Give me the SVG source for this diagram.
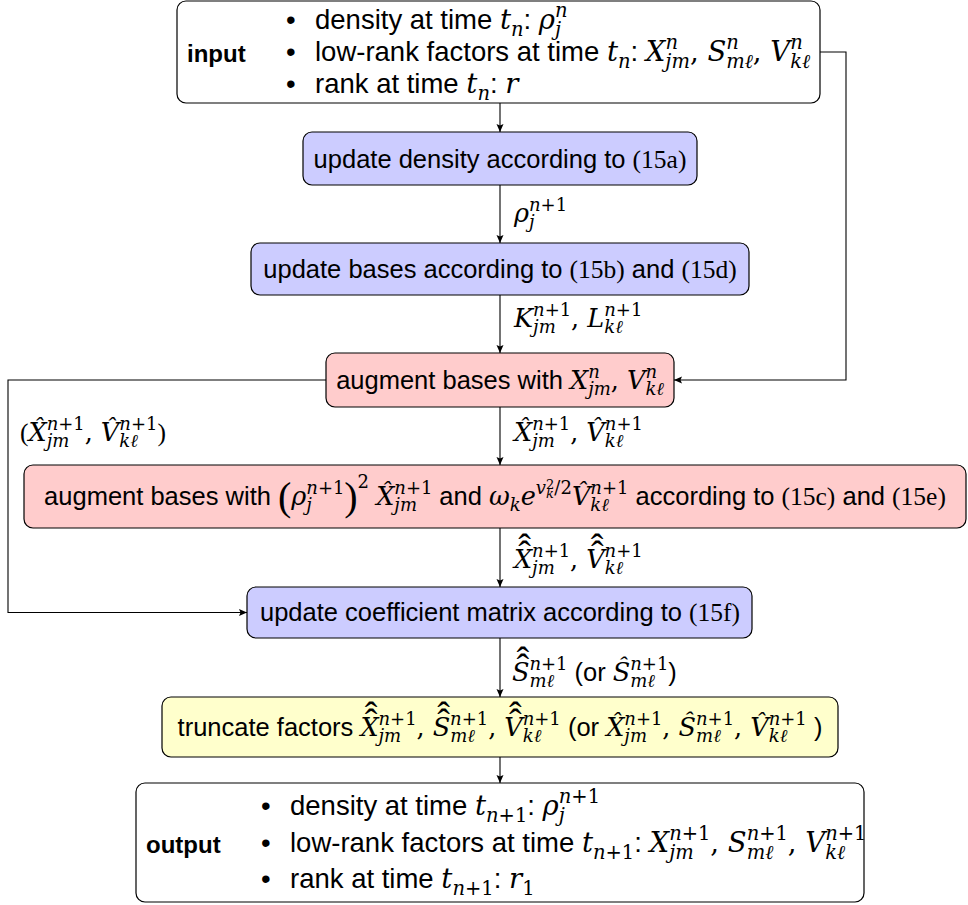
<svg xmlns="http://www.w3.org/2000/svg" width="968" height="905" viewBox="0 0 968 905">
<defs>
<marker id="ah" markerWidth="10" markerHeight="8" refX="8" refY="4" orient="auto" markerUnits="userSpaceOnUse">
<path d="M0,0.5 L8,4 L0,7.5 L1.5,4 z" fill="#000"/>
</marker>
<style>
.t{font-family:"Liberation Sans",Arial,sans-serif;font-size:25.5px;fill:#000}
.L{font-size:27.5px}
.b{font-weight:bold;font-size:24px}
.m{font-family:"DejaVu Serif",serif;font-style:italic}
.r{font-family:"Liberation Serif","Times New Roman",serif;font-style:normal}
.u{font-family:"DejaVu Serif",serif;font-style:normal}
.s{font-size:18px}
.s2{font-size:19.5px}
.ss{font-size:13px}
.h{font-family:"Liberation Serif","Times New Roman",serif;font-style:normal;font-size:38px}
.bp{font-family:"Liberation Serif","Times New Roman",serif;font-style:normal;font-size:40px}
.box{stroke:#000;stroke-width:1.2}
.w{fill:#fff}
.blue{fill:#ccccff}
.pink{fill:#ffcccc}
.yel{fill:#ffffcc}
.c{fill:none;stroke:#000;stroke-width:1.1;marker-end:url(#ah)}
</style>
</defs>
<rect width="968" height="905" fill="#fff"/>

<g id="connectors">
<line class="c" x1="500" y1="103" x2="500" y2="132"/>
<line class="c" x1="500" y1="185" x2="500" y2="243"/>
<line class="c" x1="500" y1="295" x2="500" y2="353"/>
<line class="c" x1="500" y1="407" x2="500" y2="465"/>
<line class="c" x1="500" y1="528" x2="500" y2="587"/>
<line class="c" x1="500" y1="638" x2="500" y2="697"/>
<line class="c" x1="500" y1="757" x2="500" y2="783"/>
<polyline class="c" points="820,52 846,52 846,380 674,380"/>
<polyline class="c" points="326,380 8,380 8,612.5 247,612.5"/>
<text class="t" x="514" y="222"><tspan class="m">ρ</tspan><tspan class="m s" dy="-11">n</tspan><tspan class="u s">+1</tspan><tspan class="m s" dx="-38.1" dy="17">j</tspan></text>
<text class="t" x="514" y="327"><tspan class="m">K</tspan><tspan class="m s" dy="-11">n</tspan><tspan class="u s">+1</tspan><tspan class="m s" dx="-38.1" dy="17">jm</tspan><tspan class="u" dx="15.3" dy="-6">, </tspan><tspan class="m">L</tspan><tspan class="m s" dy="-11">n</tspan><tspan class="u s">+1</tspan><tspan class="m s" dx="-38.1" dy="17">kℓ</tspan></text>
<text class="t" x="20" y="441"><tspan class="r">(</tspan><tspan class="m">X&#x302;</tspan><tspan class="m s" dy="-11">n</tspan><tspan class="u s">+1</tspan><tspan class="m s" dx="-38.1" dy="17">jm</tspan><tspan class="u" dx="15.3" dy="-6">, </tspan><tspan class="m">V&#x302;</tspan><tspan class="m s" dy="-11">n</tspan><tspan class="u s">+1</tspan><tspan class="m s" dx="-38.1" dy="17">kℓ</tspan><tspan class="r" dx="19.7" dy="-6">)</tspan></text>
<text class="t" x="514" y="441"><tspan class="m">X&#x302;</tspan><tspan class="m s" dy="-11">n</tspan><tspan class="u s">+1</tspan><tspan class="m s" dx="-38.1" dy="17">jm</tspan><tspan class="u" dx="15.3" dy="-6">, </tspan><tspan class="m">V&#x302;</tspan><tspan class="m s" dy="-11">n</tspan><tspan class="u s">+1</tspan><tspan class="m s" dx="-38.1" dy="17">kℓ</tspan></text>
<text class="t" x="514" y="568"><tspan class="m">X</tspan><tspan class="h" dx="-13.8" dy="-1">ˆ</tspan><tspan class="h" dx="-12.7" dy="-7">ˆ</tspan><tspan class="m s" dx="1.1" dy="-3">n</tspan><tspan class="u s">+1</tspan><tspan class="m s" dx="-38.1" dy="17">jm</tspan><tspan class="u" dx="15.3" dy="-6">, </tspan><tspan class="m">V</tspan><tspan class="h" dx="-13.8" dy="-1">ˆ</tspan><tspan class="h" dx="-12.7" dy="-7">ˆ</tspan><tspan class="m s" dx="1.1" dy="-3">n</tspan><tspan class="u s">+1</tspan><tspan class="m s" dx="-38.1" dy="17">kℓ</tspan></text>
<text class="t" x="512" y="681"><tspan class="m">S</tspan><tspan class="h" dx="-13" dy="-1">ˆ</tspan><tspan class="h" dx="-12.7" dy="-7">ˆ</tspan><tspan class="m s" dx="0.3" dy="-3">n</tspan><tspan class="u s">+1</tspan><tspan class="m s" dx="-38.1" dy="17">mℓ</tspan><tspan dx="13.4" dy="-6"> (or </tspan><tspan class="m">S&#x302;</tspan><tspan class="m s" dy="-11">n</tspan><tspan class="u s">+1</tspan><tspan class="m s" dx="-38.1" dy="17">mℓ</tspan><tspan dx="13.4" dy="-6">)</tspan></text>
</g>

<g id="input">
<rect class="box w" x="177" y="1" width="643" height="102" rx="9"/>
<text class="t b" x="187" y="62">input</text>
<text class="t L" x="286" y="29">•<tspan x="315">density at time </tspan><tspan class="m">t</tspan><tspan class="m s2" dy="7">n</tspan><tspan dy="-7">: </tspan><tspan class="m">ρ</tspan><tspan class="m s2" dy="-12">n</tspan><tspan class="m s2" dx="-12.6" dy="19">j</tspan></text>
<text class="t L" x="286" y="61">•<tspan x="315">low-rank factors at time </tspan><tspan class="m">t</tspan><tspan class="m s2" dy="7">n</tspan><tspan dy="-7">: </tspan><tspan class="m">X</tspan><tspan class="m s2" dy="-12">n</tspan><tspan class="m s2" dx="-12.6" dy="19">jm</tspan><tspan class="u" dy="-7">, </tspan><tspan class="m">S</tspan><tspan class="m s2" dy="-12">n</tspan><tspan class="m s2" dx="-12.6" dy="19">mℓ</tspan><tspan class="u" dy="-7">, </tspan><tspan class="m">V</tspan><tspan class="m s2" dy="-12">n</tspan><tspan class="m s2" dx="-12.6" dy="19">kℓ</tspan></text>
<text class="t L" x="286" y="93">•<tspan x="315">rank at time </tspan><tspan class="m">t</tspan><tspan class="m s2" dy="7">n</tspan><tspan dy="-7">: </tspan><tspan class="m">r</tspan></text>
</g>

<g id="update-density">
<rect class="box blue" x="303" y="132" width="394" height="53" rx="9"/>
<text class="t" x="500" y="167.5" text-anchor="middle">update density according to <tspan class="r">(15a)</tspan></text>
</g>

<g id="update-bases">
<rect class="box blue" x="251" y="243" width="498" height="52" rx="9"/>
<text class="t" x="500" y="278" text-anchor="middle">update bases according to <tspan class="r">(15b)</tspan> and <tspan class="r">(15d)</tspan></text>
</g>

<g id="augment-1">
<rect class="box pink" x="326" y="353" width="348" height="54" rx="9"/>
<text class="t" x="500" y="389" text-anchor="middle">augment bases with <tspan class="m">X</tspan><tspan class="m s" dy="-11">n</tspan><tspan class="m s" dx="-11.6" dy="17">jm</tspan><tspan class="u" dy="-6">, </tspan><tspan class="m">V</tspan><tspan class="m s" dy="-11">n</tspan><tspan class="m s" dx="-11.6" dy="17">kℓ</tspan></text>
</g>

<g id="augment-2">
<rect class="box pink" x="24" y="465" width="942" height="63" rx="9"/>
<text class="t" x="495" y="505" text-anchor="middle">augment bases with <tspan class="bp" dy="5">(</tspan><tspan class="m" dy="-5">ρ</tspan><tspan class="m s" dy="-11">n</tspan><tspan class="u s">+1</tspan><tspan class="m s" dx="-38.1" dy="17">j</tspan><tspan class="bp" dx="32.3" dy="-1">)</tspan><tspan class="u s" dy="-22">2</tspan><tspan dy="17"> </tspan><tspan class="m">X&#x302;</tspan><tspan class="m s" dy="-11">n</tspan><tspan class="u s">+1</tspan><tspan class="m s" dx="-38.1" dy="17">jm</tspan><tspan dx="15.3" dy="-6"> and </tspan><tspan class="m">ω</tspan><tspan class="m s" dy="6">k</tspan><tspan class="m" dy="-6">e</tspan><tspan class="m s" dy="-11">v</tspan><tspan class="u ss" dy="-5">2</tspan><tspan class="m ss" dx="-8.3" dy="9">k</tspan><tspan class="u s" dx="0.5" dy="-4">/2</tspan><tspan class="m" dy="11">V&#x302;</tspan><tspan class="m s" dy="-11">n</tspan><tspan class="u s">+1</tspan><tspan class="m s" dx="-38.1" dy="17">kℓ</tspan><tspan dx="19.7" dy="-6"> according to </tspan><tspan class="r">(15c)</tspan> and <tspan class="r">(15e)</tspan></text>
</g>

<g id="update-coefficient">
<rect class="box blue" x="247" y="587" width="505" height="51" rx="9"/>
<text class="t" x="500" y="621" text-anchor="middle">update coefficient matrix according to <tspan class="r">(15f)</tspan></text>
</g>

<g id="truncate">
<rect class="box yel" x="162" y="697" width="676" height="60" rx="9"/>
<text class="t" x="500" y="736" text-anchor="middle">truncate factors <tspan class="m">X</tspan><tspan class="h" dx="-13.8" dy="-1">ˆ</tspan><tspan class="h" dx="-12.7" dy="-7">ˆ</tspan><tspan class="m s" dx="1.1" dy="-3">n</tspan><tspan class="u s">+1</tspan><tspan class="m s" dx="-38.1" dy="17">jm</tspan><tspan class="u" dx="15.3" dy="-6">, </tspan><tspan class="m">S</tspan><tspan class="h" dx="-13" dy="-1">ˆ</tspan><tspan class="h" dx="-12.7" dy="-7">ˆ</tspan><tspan class="m s" dx="0.3" dy="-3">n</tspan><tspan class="u s">+1</tspan><tspan class="m s" dx="-38.1" dy="17">mℓ</tspan><tspan class="u" dx="13.4" dy="-6">, </tspan><tspan class="m">V</tspan><tspan class="h" dx="-13.8" dy="-1">ˆ</tspan><tspan class="h" dx="-12.7" dy="-7">ˆ</tspan><tspan class="m s" dx="1.1" dy="-3">n</tspan><tspan class="u s">+1</tspan><tspan class="m s" dx="-38.1" dy="17">kℓ</tspan><tspan dx="19.7" dy="-6"> (or </tspan><tspan class="m">X&#x302;</tspan><tspan class="m s" dy="-11">n</tspan><tspan class="u s">+1</tspan><tspan class="m s" dx="-38.1" dy="17">jm</tspan><tspan class="u" dx="15.3" dy="-6">, </tspan><tspan class="m">S&#x302;</tspan><tspan class="m s" dy="-11">n</tspan><tspan class="u s">+1</tspan><tspan class="m s" dx="-38.1" dy="17">mℓ</tspan><tspan class="u" dx="13.4" dy="-6">, </tspan><tspan class="m">V&#x302;</tspan><tspan class="m s" dy="-11">n</tspan><tspan class="u s">+1</tspan><tspan class="m s" dx="-38.1" dy="17">kℓ</tspan><tspan dx="19.7" dy="-6"> )</tspan></text>
</g>

<g id="output">
<rect class="box w" x="136" y="783" width="728" height="119" rx="9"/>
<text class="t b" x="146" y="853">output</text>
<text class="t L" x="261" y="815">•<tspan x="290">density at time </tspan><tspan class="m">t</tspan><tspan class="m s2" dy="7">n</tspan><tspan class="u s2">+1</tspan><tspan dy="-7">: </tspan><tspan class="m">ρ</tspan><tspan class="m s2" dy="-12">n</tspan><tspan class="u s2">+1</tspan><tspan class="m s2" dx="-41.3" dy="19">j</tspan></text>
<text class="t L" x="261" y="852">•<tspan x="290">low-rank factors at time </tspan><tspan class="m">t</tspan><tspan class="m s2" dy="7">n</tspan><tspan class="u s2">+1</tspan><tspan dy="-7">: </tspan><tspan class="m">X</tspan><tspan class="m s2" dy="-12">n</tspan><tspan class="u s2">+1</tspan><tspan class="m s2" dx="-41.3" dy="19">jm</tspan><tspan class="u" dx="16.6" dy="-7">, </tspan><tspan class="m">S</tspan><tspan class="m s2" dy="-12">n</tspan><tspan class="u s2">+1</tspan><tspan class="m s2" dx="-41.3" dy="19">mℓ</tspan><tspan class="u" dx="14.6" dy="-7">, </tspan><tspan class="m">V</tspan><tspan class="m s2" dy="-12">n</tspan><tspan class="u s2">+1</tspan><tspan class="m s2" dx="-41.3" dy="19">kℓ</tspan></text>
<text class="t L" x="261" y="888">•<tspan x="290">rank at time </tspan><tspan class="m">t</tspan><tspan class="m s2" dy="7">n</tspan><tspan class="u s2">+1</tspan><tspan dy="-7">: </tspan><tspan class="m">r</tspan><tspan class="u s2" dy="7">1</tspan></text>
</g>
</svg>
